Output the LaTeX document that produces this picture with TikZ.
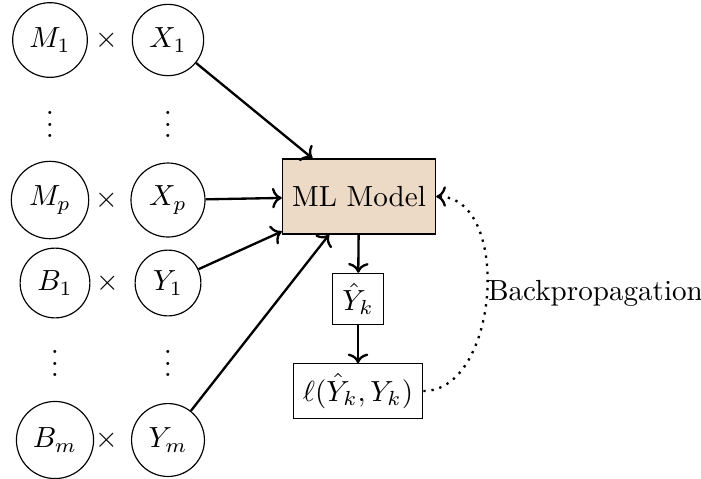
\documentclass[tikz,border=0pt]{standalone}
\usetikzlibrary{arrows.meta}
\begin{document}
\begin{tikzpicture}[x=0.3436pt,y=-0.3436pt,
  var/.style={draw,circle,inner sep=3.33pt},
  op/.style={inner sep=0pt},
  box/.style={draw,rectangle,inner sep=3.33pt},
  conn/.style={->,thick},
  back/.style={->,thick,dotted}]
\useasboundingbox (0,0) rectangle (701,478);
\node[var] (M1) at (50,40) {$M_1$};
\node[op] (t1) at (107,40) {$\times$};
\node[var] (X1) at (168,40) {$X_1$};
\node[op] (d1) at (50,116) {$\vdots$};
\node[op] (d2) at (168,116) {$\vdots$};
\node[var] (Mp) at (50,200) {$M_p$};
\node[op] (t2) at (107,200) {$\times$};
\node[var] (Xp) at (168,200) {$X_p$};
\node[var] (B1) at (55,283) {$B_1$};
\node[op] (t3) at (108,283) {$\times$};
\node[var] (Y1) at (168,283) {$Y_1$};
\node[op] (d3) at (55,355) {$\vdots$};
\node[op] (d4) at (168,355) {$\vdots$};
\node[var] (Bm) at (55,440) {$B_m$};
\node[op] (t4) at (107,440) {$\times$};
\node[var] (Ym) at (168,440) {$Y_m$};
\node[box,fill=brown!30,minimum height=25.8pt] (ml) at (359,196.5) {ML Model};
\node[box] (yh) at (358,299) {$\hat{Y}_k$};
\node[box] (loss) at (358,391) {$\ell(\hat{Y}_k,Y_k)$};
\draw[conn] (X1) -- (ml);
\draw[conn] (Xp) -- (ml);
\draw[conn] (Y1) -- (ml);
\draw[conn] (Ym) -- (ml);
\draw[conn] (ml) -- (yh);
\draw[conn] (yh) -- (loss);
\draw[back] (loss.east) to[out=0,in=0] node[pos=0.5,anchor=west,inner sep=0pt] (bp) {Backpropagation} (ml.east);
\end{tikzpicture}
\end{document}
